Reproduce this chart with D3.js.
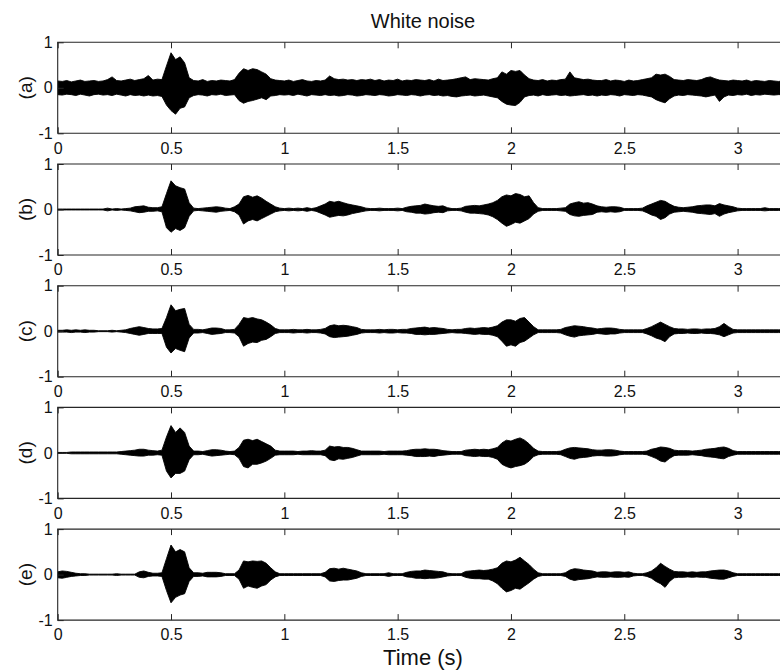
<!DOCTYPE html>
<html>
<head>
<meta charset="utf-8">
<script src="https://cdn.jsdelivr.net/npm/d3@7"></script>
<style>
  html, body { margin: 0; padding: 0; background: #fff; }
  svg { display: block; font-family: "Liberation Sans", Arial, Helvetica, sans-serif; }
</style>
</head>
<body>
<svg id="chart" width="780" height="671"></svg>
<script>
// Waveform envelopes sampled every 20 ms (upper and lower peak per sample).
const timeStep = 0.02;
const sampleCount = 161;

const panelNames = ["(a)", "(b)", "(c)", "(d)", "(e)"];
const xTickValues = [0, 0.5, 1, 1.5, 2, 2.5, 3];
const xTickLabels = ["0", "0.5", "1", "1.5", "2", "2.5", "3"];
const yTickValues = [-1, 0, 1];
const yTickLabels = ["-1", "0", "1"];

const upperA = [
  .15,.14,.16,.13,.15,.17,.14,.15,.16,.14,
  .15,.18,.24,.16,.15,.17,.19,.16,.18,.20,
  .27,.17,.19,.18,.48,.77,.62,.68,.55,.22,
  .16,.15,.18,.14,.16,.15,.17,.16,.15,.18,
  .32,.42,.38,.42,.40,.35,.30,.20,.17,.16,
  .15,.17,.14,.16,.18,.15,.14,.16,.15,.17,
  .26,.20,.18,.19,.17,.18,.16,.18,.17,.19,
  .16,.18,.15,.17,.16,.19,.15,.17,.16,.18,
  .17,.16,.18,.15,.19,.16,.17,.18,.20,.22,
  .24,.18,.20,.19,.18,.17,.20,.22,.35,.30,
  .38,.36,.38,.28,.20,.17,.16,.18,.15,.17,
  .16,.18,.19,.35,.22,.20,.18,.19,.17,.16,
  .16,.18,.15,.17,.16,.14,.17,.15,.16,.18,
  .20,.22,.30,.28,.30,.25,.18,.17,.16,.18,
  .17,.16,.18,.22,.24,.20,.17,.16,.15,.17,
  .16,.15,.17,.14,.16,.15,.14,.16,.15,.14,
  .15
];
const lowerA = [
  -.15,-.16,-.14,-.15,-.17,-.14,-.16,-.18,-.15,-.14,
  -.16,-.15,-.17,-.14,-.16,-.18,-.15,-.17,-.16,-.18,
  -.16,-.18,-.17,-.19,-.38,-.50,-.58,-.45,-.42,-.22,
  -.17,-.15,-.16,-.18,-.15,-.16,-.14,-.17,-.16,-.15,
  -.28,-.34,-.30,-.28,-.25,-.22,-.26,-.18,-.17,-.15,
  -.16,-.15,-.17,-.14,-.16,-.18,-.15,-.16,-.17,-.15,
  -.17,-.16,-.18,-.17,-.15,-.16,-.18,-.17,-.15,-.16,
  -.17,-.15,-.16,-.18,-.17,-.15,-.16,-.17,-.15,-.16,
  -.18,-.16,-.15,-.17,-.16,-.18,-.17,-.19,-.20,-.18,
  -.17,-.16,-.18,-.17,-.16,-.18,-.20,-.22,-.30,-.36,
  -.38,-.39,-.32,-.20,-.17,-.16,-.18,-.15,-.17,-.16,
  -.15,-.17,-.16,-.18,-.17,-.16,-.15,-.17,-.16,-.18,
  -.16,-.17,-.15,-.16,-.18,-.15,-.16,-.17,-.15,-.16,
  -.18,-.20,-.26,-.30,-.33,-.24,-.18,-.16,-.17,-.15,
  -.16,-.17,-.18,-.20,-.18,-.16,-.30,-.20,-.16,-.17,
  -.15,-.16,-.14,-.17,-.15,-.16,-.14,-.15,-.16,-.15,
  -.15
];

const upperB = [
  .01,.01,.01,.01,.01,.01,.01,.01,.01,.01,
  .01,.03,.01,.02,.01,.02,.03,.06,.07,.08,
  .05,.04,.04,.06,.35,.63,.52,.48,.45,.15,
  .03,.02,.03,.04,.05,.06,.05,.03,.02,.06,
  .12,.28,.31,.27,.30,.25,.18,.12,.06,.03,
  .02,.03,.02,.03,.02,.04,.02,.04,.08,.12,
  .18,.16,.18,.15,.12,.10,.08,.06,.03,.02,
  .02,.03,.02,.02,.02,.03,.02,.05,.07,.08,
  .09,.12,.10,.08,.07,.08,.04,.02,.02,.03,
  .07,.08,.09,.08,.10,.12,.15,.20,.28,.32,
  .30,.35,.33,.28,.30,.15,.04,.02,.02,.02,
  .02,.03,.04,.12,.15,.17,.14,.15,.12,.08,
  .06,.05,.06,.06,.05,.02,.02,.02,.02,.03,
  .08,.12,.16,.20,.18,.12,.07,.05,.04,.05,
  .06,.08,.09,.10,.10,.08,.13,.10,.08,.06,
  .03,.02,.02,.02,.02,.02,.04,.02,.02,.02,
  .02
];
const lowerB = [
  -.01,-.01,-.01,-.01,-.01,-.01,-.01,-.01,-.01,-.01,
  -.01,-.03,-.01,-.02,-.01,-.02,-.03,-.05,-.07,-.06,
  -.04,-.04,-.03,-.05,-.40,-.50,-.42,-.46,-.40,-.15,
  -.03,-.02,-.03,-.04,-.05,-.06,-.04,-.03,-.02,-.05,
  -.12,-.32,-.25,-.22,-.25,-.20,-.15,-.10,-.05,-.03,
  -.02,-.03,-.02,-.03,-.02,-.04,-.02,-.04,-.08,-.12,
  -.17,-.15,-.13,-.14,-.12,-.09,-.07,-.05,-.03,-.02,
  -.02,-.03,-.02,-.02,-.02,-.03,-.02,-.05,-.06,-.08,
  -.08,-.10,-.09,-.07,-.06,-.07,-.03,-.02,-.02,-.03,
  -.06,-.08,-.08,-.09,-.10,-.12,-.16,-.22,-.30,-.37,
  -.33,-.28,-.30,-.25,-.20,-.10,-.04,-.02,-.02,-.02,
  -.02,-.03,-.04,-.11,-.14,-.15,-.13,-.12,-.11,-.06,
  -.05,-.06,-.05,-.06,-.05,-.02,-.02,-.02,-.02,-.03,
  -.07,-.12,-.15,-.22,-.18,-.10,-.06,-.05,-.04,-.05,
  -.06,-.08,-.09,-.10,-.11,-.09,-.15,-.10,-.07,-.05,
  -.03,-.02,-.02,-.02,-.02,-.02,-.03,-.02,-.02,-.02,
  -.02
];

const upperC = [
  .02,.02,.03,.02,.03,.02,.03,.02,.02,.01,
  .01,.01,.02,.01,.02,.03,.06,.08,.10,.08,
  .06,.05,.05,.06,.30,.58,.45,.48,.50,.15,
  .04,.04,.03,.05,.07,.07,.06,.03,.03,.04,
  .15,.30,.28,.30,.27,.25,.20,.14,.06,.03,
  .03,.03,.04,.03,.03,.04,.03,.03,.04,.06,
  .12,.14,.12,.13,.12,.10,.08,.04,.03,.03,
  .03,.04,.03,.04,.04,.03,.04,.04,.06,.07,
  .08,.09,.07,.08,.07,.06,.04,.03,.04,.04,
  .06,.07,.06,.07,.08,.07,.09,.12,.20,.25,
  .25,.22,.28,.30,.20,.10,.03,.03,.03,.03,
  .03,.04,.08,.10,.12,.11,.10,.08,.07,.05,
  .06,.07,.07,.06,.04,.03,.03,.03,.03,.03,
  .06,.10,.15,.20,.15,.10,.06,.05,.05,.04,
  .05,.05,.04,.05,.05,.06,.10,.17,.10,.04,
  .03,.03,.03,.03,.03,.03,.03,.03,.03,.03,
  .03
];
const lowerC = [
  -.02,-.02,-.02,-.03,-.02,-.02,-.03,-.02,-.02,-.01,
  -.01,-.01,-.02,-.01,-.02,-.03,-.05,-.07,-.09,-.07,
  -.05,-.05,-.05,-.05,-.35,-.48,-.38,-.42,-.45,-.15,
  -.04,-.04,-.03,-.05,-.07,-.06,-.05,-.03,-.03,-.04,
  -.12,-.33,-.27,-.24,-.25,-.20,-.18,-.12,-.05,-.03,
  -.03,-.03,-.04,-.03,-.03,-.04,-.03,-.03,-.04,-.06,
  -.12,-.14,-.13,-.12,-.11,-.09,-.07,-.04,-.03,-.03,
  -.03,-.04,-.03,-.04,-.04,-.03,-.04,-.04,-.05,-.07,
  -.07,-.08,-.07,-.07,-.06,-.05,-.04,-.03,-.04,-.04,
  -.05,-.06,-.07,-.06,-.07,-.07,-.09,-.12,-.22,-.33,
  -.30,-.33,-.25,-.22,-.15,-.08,-.03,-.03,-.03,-.03,
  -.03,-.04,-.08,-.11,-.13,-.10,-.09,-.08,-.07,-.05,
  -.06,-.07,-.06,-.06,-.04,-.03,-.03,-.03,-.03,-.03,
  -.06,-.10,-.15,-.18,-.23,-.12,-.06,-.05,-.05,-.04,
  -.05,-.05,-.04,-.05,-.05,-.06,-.08,-.12,-.08,-.04,
  -.03,-.03,-.03,-.03,-.03,-.03,-.03,-.03,-.03,-.03,
  -.03
];

const upperD = [
  .01,.01,.01,.02,.02,.02,.02,.02,.02,.02,
  .02,.02,.02,.02,.03,.04,.05,.06,.08,.08,
  .06,.05,.04,.06,.35,.60,.45,.55,.45,.15,
  .04,.04,.03,.05,.07,.07,.06,.04,.03,.04,
  .12,.28,.30,.27,.30,.25,.20,.15,.06,.04,
  .04,.04,.04,.03,.04,.04,.05,.04,.04,.06,
  .15,.13,.14,.12,.12,.10,.07,.04,.04,.04,
  .04,.04,.03,.04,.04,.04,.04,.05,.07,.08,
  .08,.09,.08,.08,.07,.05,.04,.03,.03,.03,
  .06,.07,.08,.07,.08,.07,.09,.12,.22,.28,
  .26,.30,.33,.28,.20,.10,.04,.03,.03,.03,
  .03,.04,.08,.11,.12,.11,.10,.09,.07,.06,
  .06,.07,.07,.06,.04,.03,.03,.03,.03,.03,
  .04,.08,.10,.13,.12,.10,.06,.05,.05,.05,
  .04,.05,.06,.08,.09,.10,.12,.13,.10,.05,
  .03,.03,.03,.03,.03,.03,.03,.03,.03,.03,
  .03
];
const lowerD = [
  -.01,-.01,-.01,-.02,-.02,-.02,-.02,-.02,-.02,-.02,
  -.02,-.02,-.02,-.02,-.03,-.04,-.05,-.06,-.07,-.07,
  -.05,-.05,-.04,-.05,-.40,-.55,-.45,-.45,-.40,-.15,
  -.04,-.04,-.03,-.05,-.07,-.06,-.05,-.04,-.03,-.04,
  -.12,-.30,-.33,-.25,-.25,-.22,-.18,-.12,-.05,-.04,
  -.04,-.04,-.04,-.03,-.04,-.04,-.04,-.04,-.04,-.06,
  -.15,-.17,-.13,-.14,-.12,-.10,-.07,-.04,-.04,-.04,
  -.04,-.04,-.03,-.04,-.04,-.04,-.04,-.05,-.06,-.08,
  -.08,-.08,-.07,-.08,-.06,-.05,-.04,-.03,-.03,-.03,
  -.06,-.07,-.08,-.07,-.08,-.08,-.10,-.14,-.25,-.30,
  -.33,-.30,-.28,-.25,-.18,-.08,-.04,-.03,-.03,-.03,
  -.03,-.04,-.08,-.12,-.14,-.11,-.10,-.09,-.07,-.06,
  -.06,-.07,-.07,-.06,-.04,-.03,-.03,-.03,-.03,-.03,
  -.04,-.08,-.12,-.18,-.20,-.12,-.06,-.05,-.05,-.05,
  -.04,-.05,-.06,-.08,-.09,-.10,-.12,-.13,-.08,-.05,
  -.03,-.03,-.03,-.03,-.03,-.03,-.03,-.03,-.03,-.03,
  -.03
];

const upperE = [
  .06,.08,.07,.05,.03,.02,.02,.01,.01,.01,
  .01,.01,.01,.02,.01,.01,.01,.01,.06,.08,
  .05,.03,.03,.04,.35,.65,.50,.55,.50,.15,
  .04,.04,.03,.05,.05,.05,.04,.02,.02,.02,
  .10,.30,.28,.30,.29,.30,.25,.15,.06,.02,
  .02,.02,.02,.02,.02,.02,.02,.02,.02,.05,
  .13,.14,.12,.14,.12,.10,.08,.04,.02,.02,
  .02,.02,.02,.04,.02,.02,.02,.05,.07,.08,
  .08,.10,.09,.08,.07,.06,.03,.02,.02,.02,
  .07,.08,.09,.10,.09,.10,.12,.15,.25,.30,
  .28,.32,.38,.30,.22,.12,.04,.02,.02,.02,
  .02,.02,.04,.10,.13,.12,.10,.09,.08,.05,
  .06,.06,.05,.06,.06,.05,.06,.03,.02,.02,
  .04,.08,.15,.25,.18,.12,.07,.06,.06,.05,
  .06,.05,.06,.06,.08,.09,.10,.10,.08,.04,
  .02,.02,.02,.02,.02,.02,.02,.02,.02,.02,
  .02
];
const lowerE = [
  -.07,-.08,-.06,-.04,-.03,-.02,-.02,-.01,-.01,-.01,
  -.01,-.01,-.01,-.02,-.01,-.01,-.01,-.01,-.06,-.07,
  -.04,-.03,-.03,-.04,-.35,-.62,-.50,-.45,-.42,-.15,
  -.04,-.04,-.03,-.05,-.05,-.05,-.04,-.02,-.02,-.02,
  -.10,-.30,-.25,-.28,-.30,-.25,-.22,-.12,-.05,-.02,
  -.02,-.02,-.02,-.02,-.02,-.02,-.02,-.02,-.02,-.05,
  -.14,-.15,-.13,-.12,-.12,-.10,-.08,-.04,-.02,-.02,
  -.02,-.02,-.02,-.04,-.02,-.02,-.02,-.05,-.06,-.08,
  -.08,-.09,-.08,-.08,-.07,-.05,-.03,-.02,-.02,-.02,
  -.06,-.08,-.09,-.09,-.10,-.10,-.14,-.20,-.30,-.38,
  -.35,-.30,-.32,-.25,-.18,-.10,-.04,-.02,-.02,-.02,
  -.02,-.02,-.04,-.10,-.13,-.11,-.10,-.09,-.07,-.05,
  -.06,-.06,-.05,-.06,-.06,-.05,-.06,-.03,-.02,-.02,
  -.04,-.08,-.15,-.20,-.28,-.15,-.07,-.06,-.06,-.05,
  -.06,-.05,-.06,-.06,-.08,-.09,-.10,-.10,-.07,-.04,
  -.02,-.02,-.02,-.02,-.02,-.02,-.02,-.02,-.02,-.02,
  -.02
];

const uppers = [upperA, upperB, upperC, upperD, upperE];
const lowers = [lowerA, lowerB, lowerC, lowerD, lowerE];

// ---- layout ----
const W = 780, H = 671;
const left = 57.7;
const pxPerSecond = 226.63;
const tMax = 3.3;
const panelTop0 = 42.3, panelStep = 121.7, panelH = 91;
const axisColor = "#262626";
const textColor = "#111";
const fontStack = "Liberation Sans, Arial, sans-serif";

const svg = d3.select("#chart");
svg.append("rect").attr("width", W).attr("height", H).attr("fill", "#fff");

const x = d3.scaleLinear().domain([0, tMax]).range([left, left + tMax * pxPerSecond]);

svg.append("defs").append("clipPath").attr("id", "plotClip")
  .append("rect").attr("x", left).attr("y", 0).attr("width", W - left).attr("height", H);

const xLabel = d => xTickLabels[xTickValues.indexOf(d)];
const yLabel = d => yTickLabels[yTickValues.indexOf(d)];

panelNames.forEach((name, i) => {
  const top = panelTop0 + i * panelStep;
  const y = d3.scaleLinear().domain([-1, 1]).range([top + panelH, top]);
  const g = svg.append("g");

  const samples = d3.range(sampleCount).map(k => ({
    t: k * timeStep, hi: uppers[i][k], lo: lowers[i][k]
  }));

  const area = d3.area()
    .x(d => x(d.t))
    .y0(d => y(d.lo))
    .y1(d => y(d.hi));

  g.append("path")
    .datum(samples)
    .attr("clip-path", "url(#plotClip)")
    .attr("d", area)
    .attr("fill", "#000")
    .attr("stroke", "#000")
    .attr("stroke-width", 0.9)
    .attr("stroke-linejoin", "miter");

  // box: left, top and bottom edges (right edge lies beyond the window)
  const xEnd = x(tMax);
  g.append("path")
    .attr("d", `M${xEnd},${top}H${left}V${top + panelH}H${xEnd}`)
    .attr("fill", "none").attr("stroke", axisColor).attr("stroke-width", 1.1);

  // bottom axis with labels, ticks pointing inward
  const bottomAxis = d3.axisBottom(x).tickValues(xTickValues)
    .tickSize(-6).tickPadding(9).tickFormat(xLabel);
  const gb = g.append("g").attr("transform", `translate(0,${top + panelH})`).call(bottomAxis);
  gb.select(".domain").remove();
  gb.selectAll(".tick line").attr("stroke", axisColor);
  gb.selectAll(".tick text").attr("font-size", 16).attr("fill", textColor)
    .attr("font-family", fontStack);

  // top ticks, inward
  const topAxis = d3.axisTop(x).tickValues(xTickValues).tickSize(-6).tickFormat("");
  const gt = g.append("g").attr("transform", `translate(0,${top})`).call(topAxis);
  gt.select(".domain").remove();
  gt.selectAll(".tick line").attr("stroke", axisColor);

  // left axis
  const leftAxis = d3.axisLeft(y).tickValues(yTickValues).tickSize(-6).tickPadding(5)
    .tickFormat(yLabel);
  const gl = g.append("g").attr("transform", `translate(${left},0)`).call(leftAxis);
  gl.select(".domain").remove();
  gl.selectAll(".tick line").attr("stroke", axisColor);
  gl.selectAll(".tick text").attr("font-size", 16).attr("fill", textColor)
    .attr("font-family", fontStack);

  // panel label
  g.append("text")
    .attr("transform", `translate(32,${y(0)}) rotate(-90)`)
    .attr("text-anchor", "middle")
    .attr("font-size", 19)
    .attr("fill", textColor)
    .text(name);
});

svg.append("text")
  .attr("x", 423).attr("y", 28)
  .attr("text-anchor", "middle")
  .attr("font-size", 20)
  .attr("fill", textColor)
  .text("White noise");

svg.append("text")
  .attr("x", 423).attr("y", 665)
  .attr("text-anchor", "middle")
  .attr("font-size", 22)
  .attr("fill", textColor)
  .text("Time (s)");
</script>
</body>
</html>
